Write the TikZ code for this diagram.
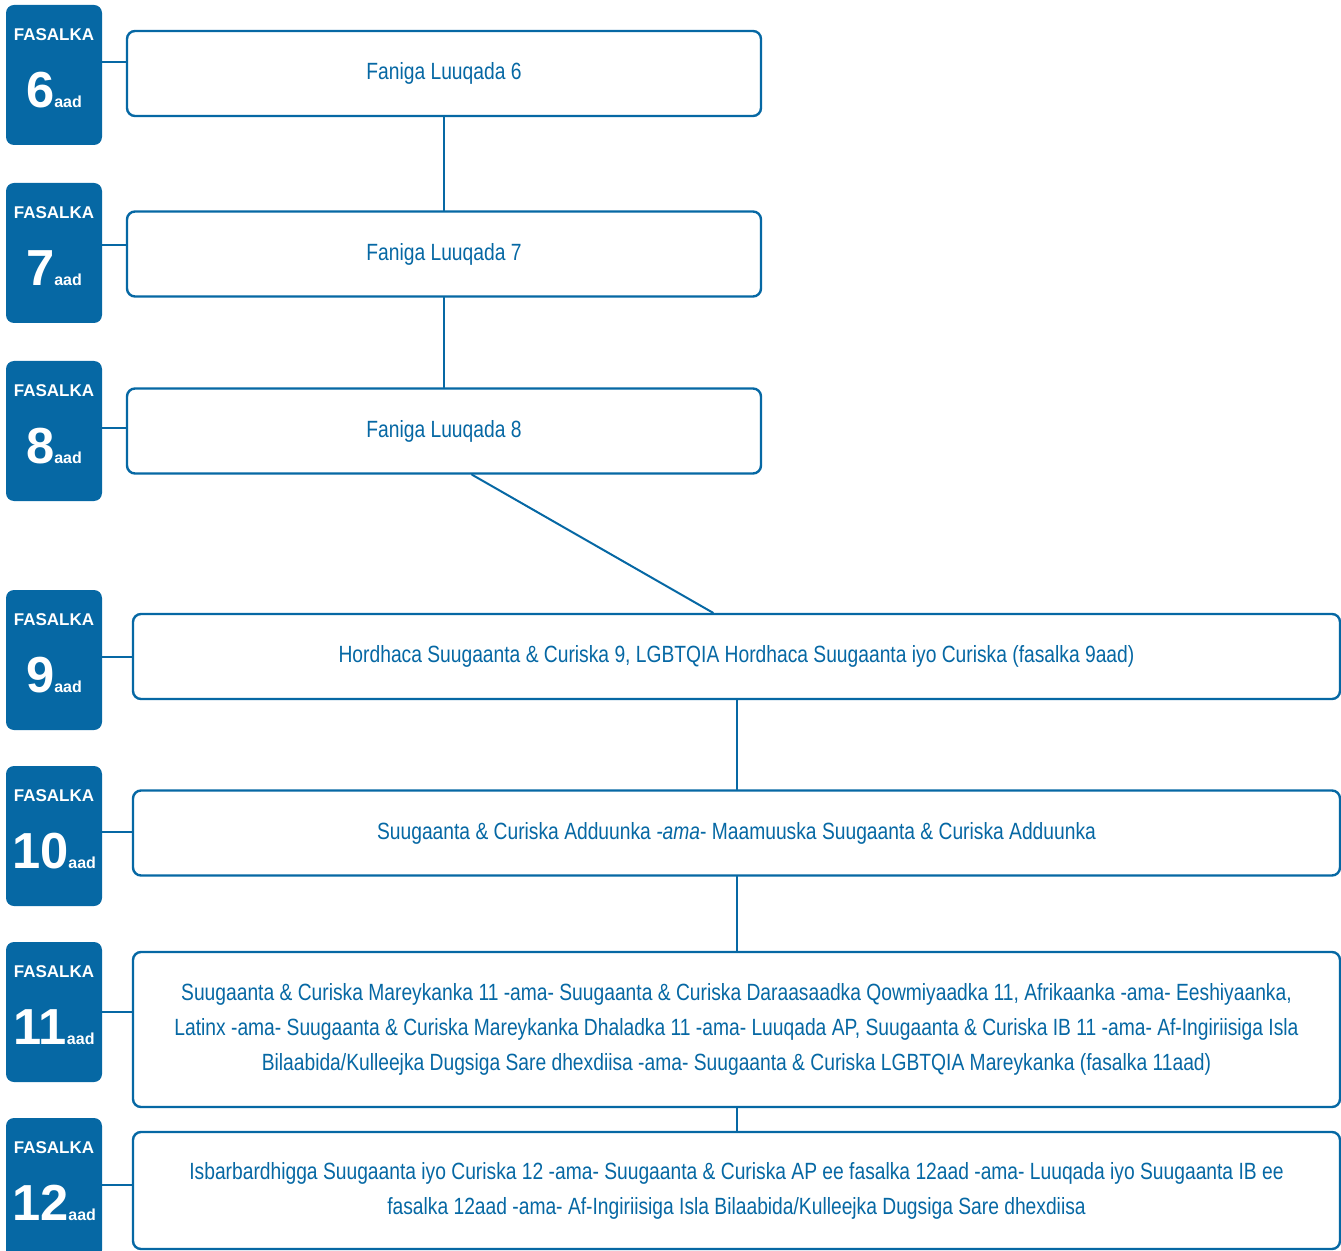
\documentclass[tikz,border=0pt]{standalone}
\usepackage{fontspec}
\setmainfont{Liberation Sans}
\newfontfamily\narrowfont[FakeStretch=0.82]{Liberation Sans}
\usepackage{tikz}
\usetikzlibrary{positioning}
\definecolor{fasblue}{RGB}{6,104,164}
\tikzset{
  badge/.style={fill=fasblue, rounded corners=6pt, minimum width=72pt,
    minimum height=105pt, inner sep=0pt},
  course/.style={draw=fasblue, line width=1.8pt, rounded corners=6pt,
    fill=white, inner sep=0pt, align=center, text=fasblue,
    font=\narrowfont\fontsize{17.6}{26.25}\selectfont},
  link/.style={draw=fasblue, line width=1.5pt},
  gradeword/.style={text=white, inner sep=0pt,
    font=\bfseries\fontsize{12.75}{14}\selectfont},
  gradenum/.style={text=white, inner sep=0pt, anchor=base},
}
\newcommand{\gradeno}[1]{{\fontsize{38}{40}\selectfont\bfseries #1}%
  {\fontsize{12}{14}\selectfont\bfseries aad}}

\begin{document}
\begin{tikzpicture}[x=0.75pt,y=-0.75pt,line cap=round]

  \useasboundingbox (0,0) rectangle (1341,1251);

  % grade badges
  \node [badge] (b6) at (54,75) {};
  \node [badge] (b7) at (54,253) {};
  \node [badge] (b8) at (54,431) {};
  \node [badge] (b9) at (54,660) {};
  \node [badge] (b10) at (54,836) {};
  \node [badge] (b11) at (54,1012) {};
  \node [badge] (b12) at (54,1188) {};

  \foreach \g in {6,7,8,9,10,11,12} {
    \node [gradeword] (w\g) at ([yshift=-22.5pt]b\g.north) {FASALKA};
    \node [gradenum] (n\g) at ([yshift=-77.25pt]b\g.north) {\gradeno{\g}};
  }


  % course boxes
  \node [course, minimum width=475.5pt, minimum height=63.75pt] (f6) at (444,73.5)
    {Faniga Luuqada 6};
  \node [course, minimum width=475.5pt, minimum height=63.75pt] (f7) at (444,254)
    {Faniga Luuqada 7};
  \node [course, minimum width=475.5pt, minimum height=63.75pt] (f8) at (444,431)
    {Faniga Luuqada 8};

  \node [course, minimum width=905.25pt, minimum height=63.75pt] (f9) at (736.5,656.5)
    {Hordhaca Suugaanta \& Curiska 9, LGBTQIA Hordhaca Suugaanta iyo Curiska (fasalka 9aad)};
  \node [course, minimum width=905.25pt, minimum height=63.75pt] (f10) at (736.5,833)
    {Suugaanta \& Curiska Adduunka \textit{-ama}- Maamuuska Suugaanta \& Curiska Adduunka};
  \node [course, minimum width=905.25pt, minimum height=116.25pt] (f11) at (736.5,1029.5)
    {Suugaanta \& Curiska Mareykanka 11 -ama- Suugaanta \& Curiska Daraasaadka Qowmiyaadka 11, Afrikaanka -ama- Eeshiyaanka,\\
     Latinx -ama- Suugaanta \& Curiska Mareykanka Dhaladka 11 -ama- Luuqada AP, Suugaanta \& Curiska IB 11 -ama- Af-Ingiriisiga Isla\\
     Bilaabida/Kulleejka Dugsiga Sare dhexdiisa -ama- Suugaanta \& Curiska LGBTQIA Mareykanka (fasalka 11aad)};
  \node [course, minimum width=905.25pt, minimum height=87.75pt] (f12) at (736.5,1190.5)
    {Isbarbardhigga Suugaanta iyo Curiska 12 -ama- Suugaanta \& Curiska AP ee fasalka 12aad -ama- Luuqada iyo Suugaanta IB ee\\
     fasalka 12aad -ama- Af-Ingiriisiga Isla Bilaabida/Kulleejka Dugsiga Sare dhexdiisa};


  % badge to box
  \draw [link] (b6.east |- 0,62) -- (f6.west |- 0,62);
  \draw [link] (b7.east |- 0,245) -- (f7.west |- 0,245);
  \draw [link] (b8.east |- 0,428) -- (f8.west |- 0,428);
  \draw [link] (b9.east |- 0,657) -- (f9.west |- 0,657);
  \draw [link] (b10.east |- 0,832) -- (f10.west |- 0,832);
  \draw [link] (b11.east |- 0,1012) -- (f11.west |- 0,1012);
  \draw [link] (b12.east |- 0,1185) -- (f12.west |- 0,1185);


  % box to box
  \draw [link] (f6.south) -- (f7.north);
  \draw [link] (f7.south) -- (f8.north);
  \draw [link] ([xshift=21pt]f8.south) -- ([xshift=-17.6pt]f9.north);
  \draw [link] (f9.south) -- (f10.north);
  \draw [link] (f10.south) -- (f11.north);
  \draw [link] (f11.south) -- (f12.north);

\end{tikzpicture}
\end{document}
